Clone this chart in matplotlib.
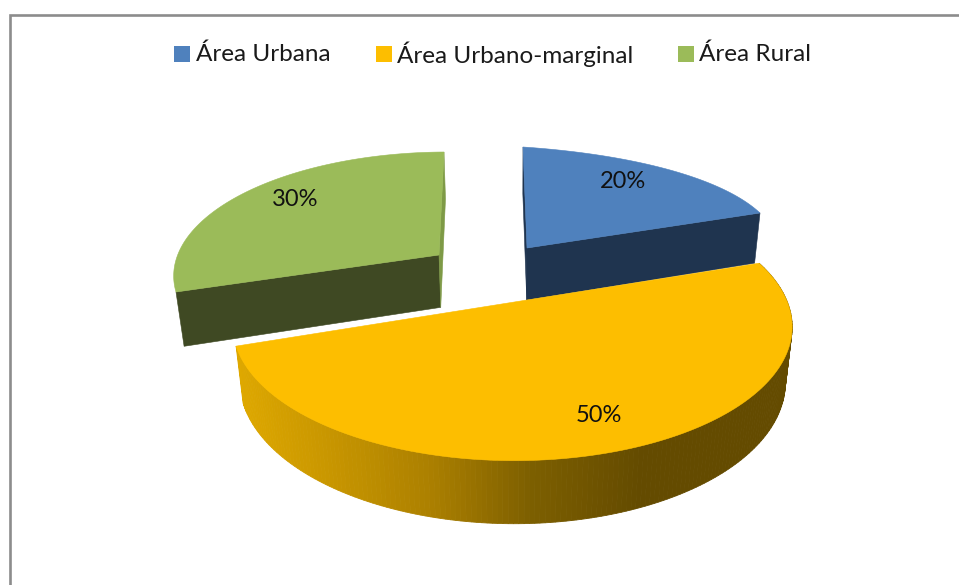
import numpy as np
import matplotlib
matplotlib.use("Agg")
import matplotlib.pyplot as plt
from matplotlib.patches import Polygon, Rectangle

categories = ["Área Urbana", "Área Urbano-marginal", "Área Rural"]
shares = [20, 50, 30]
value_labels = ["20%", "50%", "30%"]

top_colors = ["#4F81BD", "#FDBE00", "#9BBB59"]
wall_colors = ["#1F344F", None, "#3F4923"]
apexes = [(527, 248), (527, 300), (439, 255)]
label_pos = [(623, 181), (599, 415), (295, 200)]
legend_box_x = [174, 376, 678]
legend_text_x = [196, 397, 699]

plt.rcParams["font.family"] = ["Lato", "DejaVu Sans"]
W, H = 959, 585
fig = plt.figure(figsize=(W / 100, H / 100), dpi=100)
ax = fig.add_axes([0, 0, 1, 1])
ax.set_xlim(0, W)
ax.set_ylim(H, 0)
ax.axis("off")


def fit_homography(world_pts, screen):
    A, b = [], []
    for (x, y), (u, v) in zip(world_pts, screen):
        A.append([x, y, 1, 0, 0, 0, -u * x, -u * y]); b.append(u)
        A.append([0, 0, 0, x, y, 1, -v * x, -v * y]); b.append(v)
    h = np.linalg.solve(np.array(A, float), np.array(b, float))
    return np.append(h, 1).reshape(3, 3)


def on_circle(t):
    t = np.radians(t)
    return (np.sin(t), np.cos(t))


# Camera calibration of the two smaller slices (circle bearing -> picture position)
view_blue = fit_homography([(0, 0), on_circle(0), on_circle(36), on_circle(72)],
                           [(527, 248), (523, 147), (677, 172), (760, 213)])
view_green = fit_homography([(0, 0), on_circle(252), on_circle(285), on_circle(360)],
                            [(439, 255), (176, 292), (198, 225), (444, 152)])
# The large slice is framed by an ellipse through its visible outline
big_outline = np.array([(760, 263), (791, 325), (790, 343), (750, 397), (667, 440), (510, 461),
                        (430, 453), (330, 427), (263, 390), (238, 346)], float)


def homography_rim(view, t0, t1, n=180):
    th = np.radians(np.linspace(t0, t1, n))
    xy = np.c_[np.sin(th), np.cos(th), np.ones(n)]
    p = view @ xy.T
    return (p[:2] / p[2]).T


def ellipse_rim(outline, n=180):
    s = outline / 500.0
    x, y = s[:, 0], s[:, 1]
    D = np.c_[x * x, x * y, y * y, x, y, np.ones(len(x))]
    a, b, c, d, e, g = np.linalg.svd(D)[2][-1]
    M = np.array([[a, b / 2], [b / 2, c]])
    cen = -0.5 * np.linalg.solve(M, [d, e])
    val = cen @ M @ cen + d * cen[0] + e * cen[1] + g
    lam, V = np.linalg.eigh(M)
    T = V @ np.diag(np.sqrt(-val / lam))
    phi = lambda p: np.arctan2(*(np.linalg.solve(T, p / 500.0 - cen))[::-1])
    p0, pm, p1 = phi(outline[0]), phi(outline[5]), phi(outline[-1])
    pm = p0 + (pm - p0) % (2 * np.pi)
    p1 = p0 + (p1 - p0) % (2 * np.pi)
    if pm > p1:
        p1 -= 2 * np.pi
    f = np.linspace(p0, p1, n)
    return (cen[:, None] + T @ np.vstack([np.cos(f), np.sin(f)])).T * 500.0


def drop(pts):
    pts = np.atleast_2d(pts)
    dv = 52 + 0.052 * (pts[:, 1] - 248)
    du = (515 - pts[:, 0]) * 0.00044 * dv
    return pts + np.c_[du, dv]


def yellow_shade(x):
    stops = [240, 330, 430, 530, 640]
    r = np.interp(x, stops, [222, 200, 172, 125, 100])
    g = np.interp(x, stops, [168, 150, 128, 95, 75])
    return (r / 255, g / 255, 0)


bounds = np.cumsum([0] + shares) / sum(shares) * 360
for i in [0, 2, 1]:
    t0, t1 = bounds[i], bounds[i + 1]
    apex = np.array(apexes[i], float)
    bottom_apex = drop(apex)[0]
    if i == 0:
        r = homography_rim(view_blue, t0, t1)
        wall = np.vstack([apex, r[-1], drop(r[-1]), bottom_apex])
        ax.add_patch(Polygon(wall, fc=wall_colors[0], ec=wall_colors[0], lw=0.4))
        sliver = np.vstack([r[0], drop(r[0]), bottom_apex, apex])
        ax.add_patch(Polygon(sliver, fc=wall_colors[0], ec=wall_colors[0], lw=0.4))
    elif i == 2:
        r = homography_rim(view_green, t0, t1)
        wall = np.vstack([r[0], apex, bottom_apex, drop(r[0])])
        ax.add_patch(Polygon(wall, fc=wall_colors[2], ec=wall_colors[2], lw=0.4))
        sliver = np.vstack([apex, r[-1], drop(r[-1]), bottom_apex])
        ax.add_patch(Polygon(sliver, fc="#7E9A46", ec="#7E9A46", lw=0.4))
    else:
        r = ellipse_rim(big_outline)
        rd = drop(r)
        for k in range(len(r) - 1):
            q = np.vstack([r[k], r[k + 1], rd[k + 1], rd[k]])
            col = yellow_shade(q[:, 0].mean())
            ax.add_patch(Polygon(q, fc=col, ec=col, lw=0.6))
    ax.add_patch(Polygon(np.vstack([apex, r]), fc=top_colors[i], ec=top_colors[i], lw=0.4))
    ax.text(*label_pos[i], value_labels[i], fontsize=17, color="#111111", ha="center", va="center")

for i, name in enumerate(categories):
    ax.add_patch(Rectangle((legend_box_x[i], 46), 16, 16, fc=top_colors[i], ec="none"))
    ax.text(legend_text_x[i], 54, name, fontsize=17.5, color="#1A1A1A", ha="left", va="center")

ax.plot([9.5, 9.5, W], [H, 14.5, 14.5], color="#8C8C8C", lw=1.9, solid_joinstyle="miter", clip_on=False)

fig.savefig("out.png", dpi=100)
